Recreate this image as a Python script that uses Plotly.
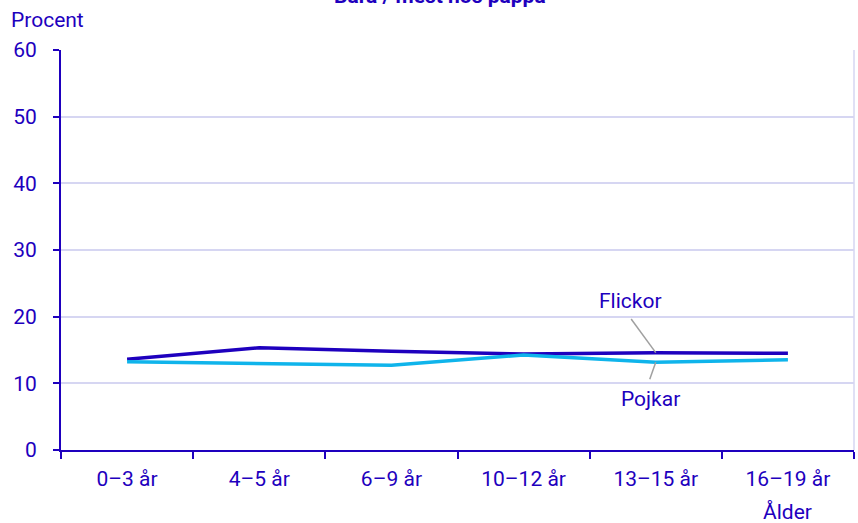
import plotly.graph_objects as go

categories = ["0–3 år", "4–5 år", "6–9 år", "10–12 år", "13–15 år", "16–19 år"]
flickor = [13.6, 15.35, 14.8, 14.4, 14.6, 14.5]
pojkar = [13.25, 12.95, 12.7, 14.25, 13.15, 13.55]
y_ticks = [0, 10, 20, 30, 40, 50, 60]

DARK = "#1E00BE"
LIGHT = "#0FB4EB"
GRID = "#D6D6F2"
FONT = "Roboto"
FS = 21

fig = go.Figure()
fig.add_trace(go.Scatter(x=categories, y=flickor, mode="lines", name="Flickor",
                         line=dict(color=DARK, width=3.5), showlegend=False))
fig.add_trace(go.Scatter(x=categories, y=pojkar, mode="lines", name="Pojkar",
                         line=dict(color=LIGHT, width=3.5), showlegend=False))

fig.update_layout(
    width=858, height=523,
    margin=dict(l=61, r=4, t=50, b=73),
    paper_bgcolor="white", plot_bgcolor="white",
    font=dict(family=FONT, size=FS, color=DARK),
    xaxis=dict(type="category", range=[-0.5, 5.5], tickson="boundaries",
               ticks="outside", ticklen=7, tickwidth=2, tickcolor=DARK,
               showline=True, linecolor=DARK, linewidth=2, showgrid=False,
               automargin=False, ticklabelstandoff=9,
               tickfont=dict(family=FONT, size=FS, color=DARK)),
    yaxis=dict(range=[0, 60], tickvals=y_ticks, ticks="outside", ticklen=6,
               tickwidth=2, tickcolor=DARK, showline=True, linecolor=DARK,
               linewidth=2, gridcolor=GRID, gridwidth=1.5, zeroline=False,
               automargin=False, ticklabelstandoff=12,
               tickfont=dict(family=FONT, size=FS, color=DARK)),
)

# light right border
fig.add_shape(type="line", xref="paper", yref="paper", x0=1, x1=1, y0=0, y1=1,
              line=dict(color=GRID, width=1.5), layer="below")

# connector lines for labels
fig.add_shape(type="line", xref="x", yref="y", xsizemode="pixel", ysizemode="pixel",
              xanchor=4, yanchor=flickor[4], x0=-24.6, x1=0, y0=33.7, y1=0,
              line=dict(color="#A0A0A0", width=1.5))
fig.add_shape(type="line", xref="x", yref="y", xsizemode="pixel", ysizemode="pixel",
              xanchor=4, yanchor=pojkar[4], x0=-6, x1=0, y0=-17, y1=0,
              line=dict(color="#A0A0A0", width=1.5))

fig.add_annotation(x=categories[4], y=flickor[4], text="Flickor", showarrow=False,
                   xshift=-24.8, yshift=51.7, font=dict(size=FS, color=DARK))
fig.add_annotation(x=categories[4], y=pojkar[4], text="Pojkar", showarrow=False,
                   xshift=-5.6, yshift=-36.2, font=dict(size=FS, color=DARK))

fig.add_annotation(x=0, xref="paper", xanchor="left", xshift=-52, y=1, yref="paper",
                   yanchor="bottom", yshift=16, text="Procent", showarrow=False,
                   font=dict(size=FS, color=DARK))
fig.add_annotation(x=categories[5], y=0, yref="paper", yanchor="middle", yshift=-61.5,
                   text="Ålder", showarrow=False, font=dict(size=FS, color=DARK))
fig.add_annotation(x=0.5, xref="paper", xshift=-17.5, y=1, yref="paper", yanchor="bottom",
                   yshift=40, text="<b>Bara / mest hos pappa</b>", showarrow=False,
                   font=dict(size=FS, color=DARK))

fig.write_html(
    "out.html",
    config={"displayModeBar": False},
    post_script="document.body.style.margin='0';document.body.style.overflow='hidden';",
)
